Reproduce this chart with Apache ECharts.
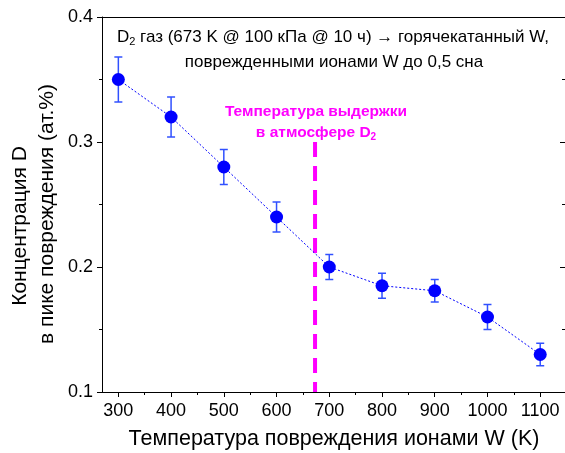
<!DOCTYPE html>
<html>
<head>
<meta charset="utf-8">
<script src="https://cdn.jsdelivr.net/npm/echarts@6/dist/echarts.min.js"></script>
<style>
  html, body { margin: 0; padding: 0; background: #fff; }
  #chart { width: 565px; height: 453px; }
</style>
</head>
<body>
<div id="chart"></div>
<script>
// Damage temperature (K) and D concentration at the damage peak (at.%)
const temperatures = [300, 400, 500, 600, 700, 800, 900, 1000, 1100];
const concentration = [0.35, 0.32, 0.28, 0.24, 0.20, 0.185, 0.181, 0.16, 0.13];
const concentrationError = [0.018, 0.016, 0.014, 0.012, 0.010, 0.010, 0.009, 0.010, 0.009];

// Axis ticks
const xMajorTicks = [300, 400, 500, 600, 700, 800, 900, 1000, 1100];
const xMinorTicks = [350, 450, 550, 650, 750, 850, 950, 1050];
const xRange = [269, 1147];
const yRange = [0.1, 0.4];

// D2 exposure temperature marker
const exposureTemp = 673;
const exposureLineSpan = [0.3, 0.1];

const FONT = "'Liberation Sans', Arial, sans-serif";
const BLUE = '#0000ff';
const ERR_BLUE = '#3050ff';
const MAGENTA = '#ff00ff';

const errorData = temperatures.map((t, i) => [t, concentration[i] - concentrationError[i], concentration[i] + concentrationError[i]]);
const pointData = temperatures.map((t, i) => [t, concentration[i]]);
const exposureData = exposureLineSpan.map(v => [exposureTemp, v]);

const chart = echarts.init(document.getElementById('chart'), null, { renderer: 'canvas' });

const baseX = {
  type: 'value', min: xRange[0], max: xRange[1],
  splitLine: { show: false }
};

chart.setOption({
  animation: false,
  backgroundColor: '#fff',
  grid: { left: 102, right: -1, top: 17, bottom: 61, containLabel: false },
  xAxis: [
    Object.assign({}, baseX, {
      position: 'bottom',
      axisLine: { show: true, lineStyle: { color: '#000', width: 1 } },
      axisTick: { show: true, inside: false, length: 5, customValues: xMajorTicks, lineStyle: { color: '#000' } },
      axisLabel: { show: true, customValues: xMajorTicks, color: '#000', fontSize: 18, fontFamily: FONT, margin: 10, formatter: v => String(v) }
    }),
    Object.assign({}, baseX, {
      position: 'bottom',
      axisLine: { show: false },
      axisTick: { show: true, inside: false, length: 3, customValues: xMinorTicks, lineStyle: { color: '#000' } },
      axisLabel: { show: false }
    }),
    Object.assign({}, baseX, {
      position: 'top',
      axisLine: { show: true, lineStyle: { color: '#000', width: 1 } },
      axisTick: { show: false },
      axisLabel: { show: false }
    })
  ],
  yAxis: [
    {
      type: 'value', position: 'left', min: yRange[0], max: yRange[1], interval: 0.1,
      axisLine: { show: true, lineStyle: { color: '#000', width: 1 } },
      axisTick: { show: true, inside: false, length: 5, lineStyle: { color: '#000' } },
      minorTick: { show: true, splitNumber: 2, length: 3, lineStyle: { color: '#000' } },
      axisLabel: { color: '#000', fontSize: 18, fontFamily: FONT, margin: 9, formatter: v => v.toFixed(1) },
      splitLine: { show: false }
    },
    {
      type: 'value', position: 'right', min: yRange[0], max: yRange[1], interval: 0.1,
      axisLine: { show: true, lineStyle: { color: '#000', width: 1 } },
      axisTick: { show: true, inside: true, length: 5, lineStyle: { color: '#000' } },
      minorTick: { show: true, splitNumber: 2, length: 3, lineStyle: { color: '#000' } },
      axisLabel: { show: false },
      splitLine: { show: false }
    }
  ],
  series: [
    {
      type: 'line',
      data: exposureData,
      symbol: 'none',
      silent: true,
      lineStyle: { color: MAGENTA, width: 4, type: [15, 9] },
      z: 1
    },
    {
      type: 'custom',
      data: errorData,
      renderItem: (params, api) => {
        const x = api.value(0);
        const lo = api.coord([x, api.value(1)]);
        const hi = api.coord([x, api.value(2)]);
        const hw = 4;
        const style = { stroke: ERR_BLUE, lineWidth: 1.5 };
        return {
          type: 'group',
          children: [
            { type: 'line', shape: { x1: hi[0], y1: hi[1], x2: lo[0], y2: lo[1] }, style },
            { type: 'line', shape: { x1: hi[0] - hw, y1: hi[1], x2: hi[0] + hw, y2: hi[1] }, style },
            { type: 'line', shape: { x1: lo[0] - hw, y1: lo[1], x2: lo[0] + hw, y2: lo[1] }, style }
          ]
        };
      },
      z: 2
    },
    {
      type: 'line',
      data: pointData,
      symbol: 'circle',
      symbolSize: 13,
      itemStyle: { color: BLUE },
      lineStyle: { color: BLUE, width: 1, type: [2, 2] },
      z: 3
    }
  ],
  graphic: [
    {
      type: 'text', x: 333, y: 37,
      style: {
        text: '{n|D}{s|2}{n| газ (673 K @ 100 кПа @ 10 ч) → горячекатанный W,}',
        align: 'center', verticalAlign: 'middle',
        rich: {
          n: { fontSize: 17, fontFamily: FONT, fill: '#000' },
          s: { fontSize: 11, fontFamily: FONT, fill: '#000', padding: [9, 0, 0, 0] }
        }
      }
    },
    {
      type: 'text', x: 334, y: 62,
      style: { text: 'поврежденными ионами W до 0,5 сна', align: 'center', verticalAlign: 'middle', font: '17px ' + FONT, fill: '#000' }
    },
    {
      type: 'text', x: 316, y: 112,
      style: { text: 'Температура выдержки', align: 'center', verticalAlign: 'middle', font: 'bold 15.5px ' + FONT, fill: MAGENTA }
    },
    {
      type: 'text', x: 316, y: 133,
      style: {
        text: '{b|в атмосфере D}{s|2}',
        align: 'center', verticalAlign: 'middle',
        rich: {
          b: { fontSize: 15.5, fontWeight: 'bold', fontFamily: FONT, fill: MAGENTA },
          s: { fontSize: 10, fontWeight: 'bold', fontFamily: FONT, fill: MAGENTA, padding: [9, 0, 0, 0] }
        }
      }
    },
    {
      type: 'text', x: 334, y: 439,
      style: { text: 'Температура повреждения ионами W (K)', align: 'center', verticalAlign: 'middle', font: '21.5px ' + FONT, fill: '#000' }
    },
    {
      type: 'text', x: 20, y: 226, rotation: Math.PI / 2,
      style: { text: 'Концентрация D', align: 'center', verticalAlign: 'middle', font: '21px ' + FONT, fill: '#000' }
    },
    {
      type: 'text', x: 47, y: 214, rotation: Math.PI / 2,
      style: { text: 'в пике повреждения (ат.%)', align: 'center', verticalAlign: 'middle', font: '21px ' + FONT, fill: '#000' }
    }
  ]
});
</script>
</body>
</html>
